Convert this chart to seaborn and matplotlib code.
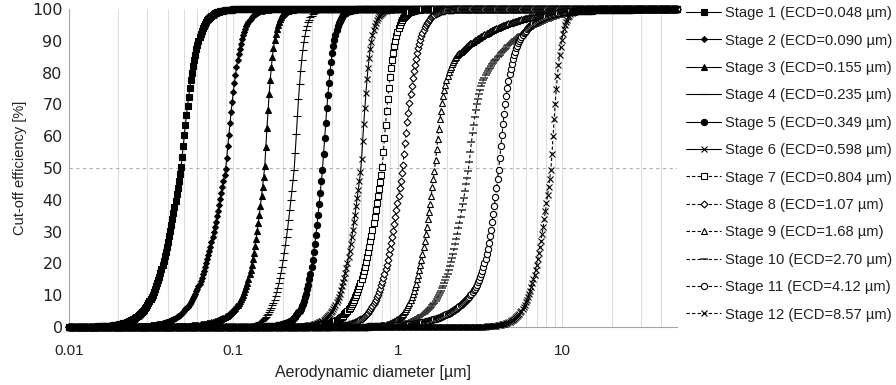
import numpy as np
import pandas as pd
import matplotlib
matplotlib.use("Agg")
import matplotlib.pyplot as plt
import matplotlib.ticker as mticker
import seaborn as sns

# ---------------- data ----------------
stages = ["Stage 1", "Stage 2", "Stage 3", "Stage 4", "Stage 5", "Stage 6",
          "Stage 7", "Stage 8", "Stage 9", "Stage 10", "Stage 11", "Stage 12"]
ecd_labels = ["0.048", "0.090", "0.155", "0.235", "0.349", "0.598",
              "0.804", "1.07", "1.68", "2.70", "4.12", "8.57"]
ecd = [0.048, 0.090, 0.155, 0.235, 0.349, 0.598, 0.804, 1.07, 1.68, 2.70, 4.12, 8.57]
# steepness of each curve below / above its ECD (main slope, tail slope, tail weight)
slope_lo_main = [5.5, 5.0, 10.0, 8.5, 10.5, 7.2, 6.0, 6.3, 7.0, 6.5, 11.0, 7.0]
slope_lo_tail = [5.5, 5.0, 4.0, 8.5, 6.0, 7.2, 6.0, 6.3, 7.0, 3.5, 3.0, 7.0]
weight_lo_tail = [0.0, 0.0, 0.3, 0.0, 0.2, 0.0, 0.0, 0.0, 0.0, 0.3, 0.4, 0.0]
slope_hi_main = [9.0, 10.0, 16.0, 16.0, 13.5, 15.0, 12.0, 9.0, 14.0, 16.0, 13.0, 15.0]
slope_hi_tail = [9.0, 10.0, 16.0, 16.0, 13.5, 15.0, 12.0, 9.0, 2.0, 2.4, 4.0, 15.0]
weight_hi_tail = [0.0, 0.0, 0.0, 0.0, 0.0, 0.0, 0.0, 0.0, 0.4, 0.55, 0.35, 0.0]

x_ticks = [0.01, 0.1, 1, 10]
x_tick_labels = ["0.01", "0.1", "1", "10"]
y_ticks = [0, 10, 20, 30, 40, 50, 60, 70, 80, 90, 100]

# diameter grid of the computed curves (log-spaced, 0.01 - 50 µm)
diam = np.logspace(np.log10(0.01), np.log10(50), 560)


def efficiency(d, d50, slo1, slo2, wlo, shi1, shi2, whi):
    x = np.log(d / d50)
    ax_ = np.abs(x)
    ulo = (1 - wlo) * np.tanh(slo1 / 2 * ax_) + wlo * np.tanh(slo2 / 2 * ax_)
    uhi = (1 - whi) * np.tanh(shi1 / 2 * ax_) + whi * np.tanh(shi2 / 2 * ax_)
    return 100 * np.where(x < 0, 0.5 - 0.5 * ulo, 0.5 + 0.5 * uhi)


# ---------------- styles ----------------
markers = ["s", "D", "^", "_", "o", "x", "s", "D", "^", "_", "o", "x"]
msizes = [4.0, 3.0, 4.0, 5.5, 4.5, 4.5, 4.0, 3.5, 4.2, 5.5, 4.5, 4.8]
filled = [True] * 6 + [False] * 6
lstyles = ["-"] * 6 + [(0, (3, 2))] * 6
medge = ["black"] * 9 + ["#333333", "black", "black"]
mew = [0.8] * 9 + [1.1, 0.8, 0.8]

sns.set_style("white")
plt.rcParams["font.family"] = ["Liberation Sans", "DejaVu Sans"]
TXT = "#222222"

fig = plt.figure(figsize=(8.96, 3.85), dpi=100)
ax = fig.add_axes([0.077, 0.1506, 0.6786, 0.826])

ax.axhline(50, color="#b0b0b0", lw=0.8, ls=(0, (3, 3)), zorder=1)

for i, st in enumerate(stages):
    eff = efficiency(diam, ecd[i], slope_lo_main[i], slope_lo_tail[i], weight_lo_tail[i],
                     slope_hi_main[i], slope_hi_tail[i], weight_hi_tail[i])
    df = pd.DataFrame({"d": diam, "E": eff})
    sns.lineplot(data=df, x="d", y="E", ax=ax, estimator=None, sort=False,
                 color="black", linewidth=0.8, linestyle=lstyles[i],
                 marker=markers[i], markersize=msizes[i],
                 markerfacecolor="black" if filled[i] else "white",
                 markeredgecolor=medge[i], markeredgewidth=mew[i],
                 label=f"{st} (ECD={ecd_labels[i]} µm)", clip_on=False, zorder=3 + i)

ax.set_xscale("log")
ax.set_xlim(0.01, 50)
ax.set_ylim(0, 100)
ax.set_xticks(x_ticks)
ax.set_xticklabels(x_tick_labels)
ax.xaxis.set_minor_locator(mticker.LogLocator(base=10, subs=np.arange(2, 10)))
ax.xaxis.set_minor_formatter(mticker.NullFormatter())
ax.set_yticks(y_ticks)
ax.grid(True, which="both", axis="x", color="#dedede", lw=0.8, zorder=0)
ax.grid(False, axis="y")
ax.set_axisbelow(True)

for s in ["top", "right"]:
    ax.spines[s].set_visible(False)
for s in ["left", "bottom"]:
    ax.spines[s].set_color("#a6a6a6")
    ax.spines[s].set_linewidth(0.8)

ax.tick_params(axis="x", which="major", direction="out", length=3, width=0.8,
               color="#a6a6a6", labelsize=11, labelcolor=TXT, pad=9)
ax.tick_params(axis="y", which="major", direction="out", length=3, width=0.8,
               color="#a6a6a6", labelcolor=TXT, pad=1.5)
for lab in ax.get_yticklabels():
    lab.set_fontfamily(["DejaVu Sans"])
    lab.set_fontsize(11.5)
ax.tick_params(axis="x", which="minor", length=0)
ax.set_xlabel("Aerodynamic diameter [µm]", fontsize=11.5, color=TXT, labelpad=5)
ax.set_ylabel("Cut-off efficiency [%]", fontsize=10.5, color=TXT, labelpad=4)

handles, labels = ax.get_legend_handles_labels()
if ax.legend_:
    ax.legend_.remove()
fig.legend(handles, labels, loc="upper left", bbox_to_anchor=(0.766, 0.984),
           frameon=False, fontsize=10.6, handlelength=2.38, handletextpad=0.22,
           labelspacing=0.91, borderpad=0, borderaxespad=0, numpoints=1,
           labelcolor=TXT)

fig.savefig("out.png", dpi=100)
